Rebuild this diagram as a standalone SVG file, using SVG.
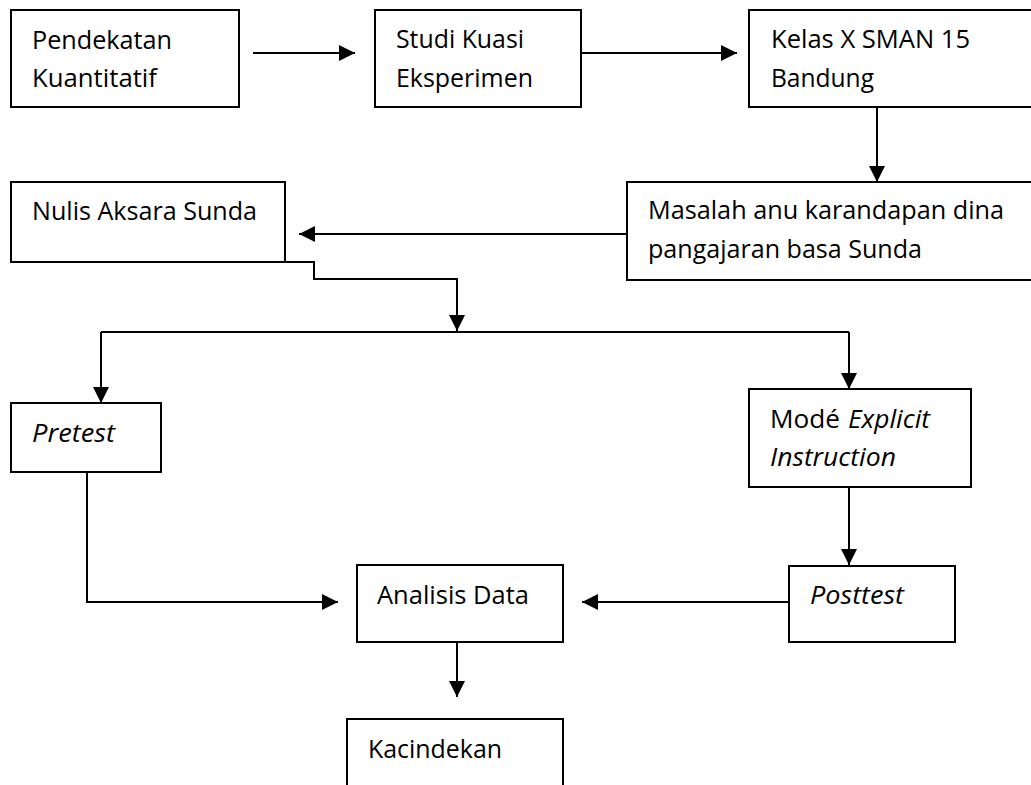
<svg xmlns="http://www.w3.org/2000/svg" width="1031" height="785" viewBox="0 0 1031 785">
<style>
.box{fill:#fff;stroke:#000;stroke-width:2}
.t{font-family:"Open Sans","Noto Sans","Liberation Sans",sans-serif;font-size:25.5px;fill:#000}
.i{font-style:italic}
.c{fill:none;stroke:#000;stroke-width:2}
</style>
<defs>
<marker id="ah" markerUnits="userSpaceOnUse" markerWidth="17" markerHeight="17" refX="16" refY="8" orient="auto">
<path d="M0,0 L16,8 L0,16 z" fill="#000"/>
</marker>
</defs>
<rect width="1031" height="785" fill="#fff"/>
<g id="connectors">
<line class="c" x1="253" y1="53" x2="355" y2="53" marker-end="url(#ah)"/>
<line class="c" x1="581" y1="53" x2="737" y2="53" marker-end="url(#ah)"/>
<line class="c" x1="877" y1="108" x2="877" y2="182" marker-end="url(#ah)"/>
<line class="c" x1="627" y1="234" x2="299" y2="234" marker-end="url(#ah)"/>
<polyline class="c" points="172,262 314,262 314,279 457,279 457,331" marker-end="url(#ah)"/>
<line class="c" x1="101" y1="332" x2="849" y2="332"/>
<line class="c" x1="101" y1="332" x2="101" y2="403" marker-end="url(#ah)"/>
<line class="c" x1="849" y1="332" x2="849" y2="389" marker-end="url(#ah)"/>
<polyline class="c" points="87,472 87,602 338,602" marker-end="url(#ah)"/>
<line class="c" x1="849" y1="487" x2="849" y2="565" marker-end="url(#ah)"/>
<line class="c" x1="789" y1="602" x2="582" y2="602" marker-end="url(#ah)"/>
<line class="c" x1="457" y1="642" x2="457" y2="697" marker-end="url(#ah)"/>
</g>
<g id="n-pendekatan">
<rect class="box" x="11" y="10" width="228" height="97"/>
<text class="t" x="32" y="49" textLength="140" lengthAdjust="spacingAndGlyphs">Pendekatan</text>
<text class="t" x="32" y="87" textLength="125" lengthAdjust="spacingAndGlyphs">Kuantitatif</text>
</g>
<g id="n-studi">
<rect class="box" x="375" y="10" width="206" height="97"/>
<text class="t" x="396" y="48" textLength="128" lengthAdjust="spacingAndGlyphs">Studi Kuasi</text>
<text class="t" x="396" y="87" textLength="137" lengthAdjust="spacingAndGlyphs">Eksperimen</text>
</g>
<g id="n-kelas">
<rect class="box" x="749" y="10" width="300" height="97"/>
<text class="t" x="771" y="48" textLength="199" lengthAdjust="spacingAndGlyphs">Kelas X SMAN 15</text>
<text class="t" x="771" y="87" textLength="103" lengthAdjust="spacingAndGlyphs">Bandung</text>
</g>
<g id="n-masalah">
<rect class="box" x="627" y="182" width="420" height="98"/>
<text class="t" x="648" y="219" textLength="356" lengthAdjust="spacingAndGlyphs">Masalah anu karandapan dina</text>
<text class="t" x="648" y="258" textLength="274" lengthAdjust="spacingAndGlyphs">pangajaran basa Sunda</text>
</g>
<g id="n-nulis">
<rect class="box" x="11" y="182" width="274" height="80"/>
<text class="t" x="32" y="220" textLength="225" lengthAdjust="spacingAndGlyphs">Nulis Aksara Sunda</text>
</g>
<g id="n-pretest">
<rect class="box" x="11" y="403" width="150" height="69"/>
<text class="t i" x="32" y="442" textLength="83" lengthAdjust="spacingAndGlyphs">Pretest</text>
</g>
<g id="n-mode">
<rect class="box" x="749" y="389" width="222" height="98"/>
<text class="t" x="770" y="428" textLength="70" lengthAdjust="spacingAndGlyphs">Modé</text>
<text class="t i" x="848" y="428" textLength="82" lengthAdjust="spacingAndGlyphs">Explicit</text>
<text class="t i" x="770" y="466" textLength="126" lengthAdjust="spacingAndGlyphs">Instruction</text>
</g>
<g id="n-posttest">
<rect class="box" x="789" y="566" width="166" height="76"/>
<text class="t i" x="810" y="604" textLength="94" lengthAdjust="spacingAndGlyphs">Posttest</text>
</g>
<g id="n-analisis">
<rect class="box" x="357" y="565" width="206" height="77"/>
<text class="t" x="377" y="604" textLength="152" lengthAdjust="spacingAndGlyphs">Analisis Data</text>
</g>
<g id="n-kacindekan">
<rect class="box" x="347" y="719" width="216" height="90"/>
<text class="t" x="368" y="758" textLength="134" lengthAdjust="spacingAndGlyphs">Kacindekan</text>
</g>
</svg>
